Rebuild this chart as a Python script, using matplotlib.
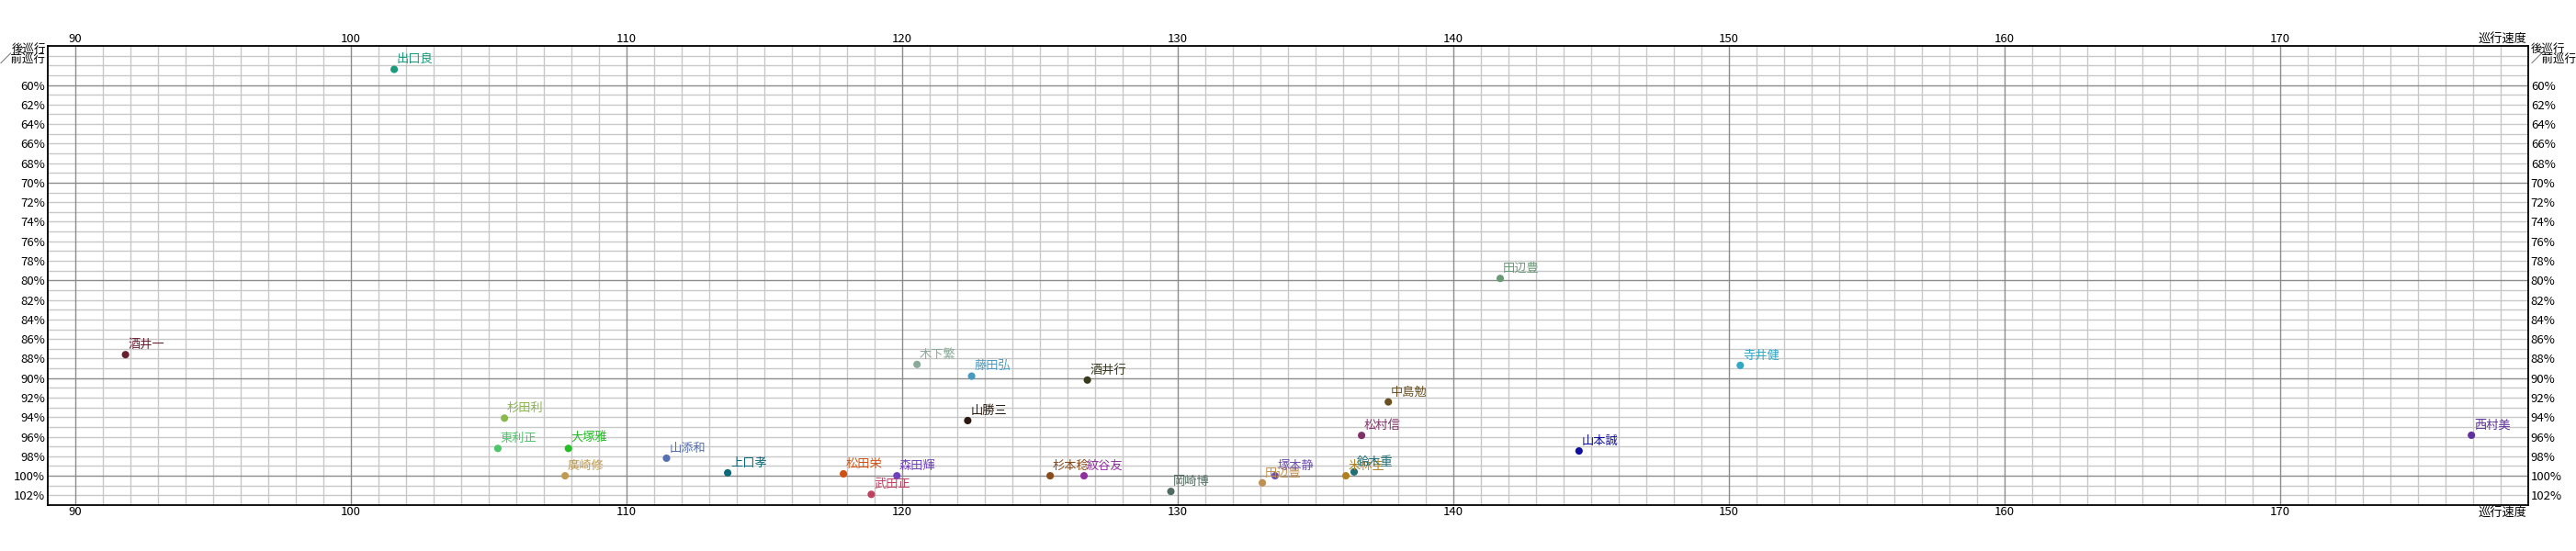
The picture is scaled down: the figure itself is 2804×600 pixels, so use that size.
import matplotlib
matplotlib.use("Agg")
import matplotlib.pyplot as plt
import numpy as np
from matplotlib.ticker import FixedLocator

plt.rcParams["font.family"] = ["Noto Sans CJK JP", "DejaVu Sans"]

# data
NAMES = [
    "出口良", "酒井一", "杉田利", "東利正", "大塚雅", "廣崎修", "山添和", "上口孝",
    "松田栄", "武田正", "森田輝", "木下繁", "山勝三", "藤田弘", "杉本稔", "紋谷友",
    "酒井行", "岡崎博", "田辺豊", "塚本静", "米林圭", "鈴木重", "松村信", "中島勉",
    "田辺豊", "山本誠", "寺井健", "西村美",
]
SPEED = [
    101.57, 91.82, 105.57, 105.33, 107.89, 107.77, 111.45, 113.67,
    117.87, 118.88, 119.81, 120.54, 122.38, 122.52, 125.37, 126.60,
    126.72, 129.75, 133.07, 133.53, 136.10, 136.40, 136.67, 137.64,
    141.70, 144.56, 150.41, 176.94,
]
RATIO = [
    58.4, 87.6, 94.1, 97.2, 97.2, 100.0, 98.2, 99.7,
    99.8, 101.9, 100.0, 88.6, 94.35, 89.8, 100.0, 100.0,
    90.2, 101.6, 100.72, 100.0, 100.0, 99.6, 95.87, 92.44,
    79.8, 97.46, 88.7, 95.85,
]
COLORS = [
    "#1a9a7a", "#6b1f2e", "#8ab84a", "#4cc66a", "#22c022", "#c09a50", "#5570b0", "#0a6a7a",
    "#d05010", "#c04060", "#7040c0", "#8aab98", "#2a1a10", "#4a9ac0", "#8a4a1a", "#9030a0",
    "#3a3a20", "#506a60", "#c09050", "#7050b0", "#b08020", "#207078", "#803068", "#6a5020",
    "#6a9a78", "#1010a0", "#30a8c8", "#6030a0",
]

X_TICKS = list(range(90, 171, 10))
Y_TICKS = list(range(60, 103, 2))

fig = plt.figure(figsize=(28.04, 6.0), dpi=100)
ax = fig.add_axes([52 / 2804, 50 / 600, 2700 / 2804, 500 / 600])

ax.set_xlim(89, 179)
ax.set_ylim(103, 56)

# grid: light every 1, darker every 10 (drawn once each)
for v in range(89, 180):
    major = v % 10 == 0
    ax.axvline(v, color="#8c8c8c" if major else "#c8c8c8", linewidth=1.0,
               zorder=0.5 if major else 0.2)
for v in range(56, 104):
    major = v % 10 == 0
    ax.axhline(v, color="#8c8c8c" if major else "#c8c8c8", linewidth=1.0,
               zorder=0.5 if major else 0.2)

ax.xaxis.set_major_locator(FixedLocator(X_TICKS))
ax.yaxis.set_major_locator(FixedLocator(Y_TICKS))
ax.set_xticklabels([str(v) for v in X_TICKS])
ax.set_yticklabels([f"{v}%" for v in Y_TICKS])
ax.tick_params(which="both", length=0, labelsize=9.5, colors="black",
               top=True, right=True, labeltop=True, labelright=True)
ax.tick_params(axis="x", pad=1)
ax.tick_params(axis="y", pad=2)

for spine in ax.spines.values():
    spine.set_color("black")
    spine.set_linewidth(1.3)

ax.scatter(SPEED, RATIO, s=34, c=COLORS, zorder=3, linewidths=0)
for name, x, y, c in zip(NAMES, SPEED, RATIO, COLORS):
    ax.annotate(name, (x, y), xytext=(2, 3), textcoords="offset points",
                ha="left", va="bottom", fontsize=9.5, color=c, zorder=4,
                arrowprops=dict(arrowstyle="-", color=c, lw=0.8,
                                shrinkA=0, shrinkB=1, relpos=(0, 0)))

# axis captions
fig.text(50 / 2804, 1 - 47 / 600, "後巡行\n／前巡行", ha="right", va="top",
         fontsize=9, linespacing=0.9)
fig.text(2755 / 2804, 1 - 47 / 600, "後巡行\n／前巡行", ha="left", va="top",
         fontsize=9, linespacing=0.9)
fig.text(2751 / 2804, 1 - 49 / 600, "巡行速度", ha="right", va="bottom", fontsize=9.5)
fig.text(2751 / 2804, 1 - 552 / 600, "巡行速度", ha="right", va="top", fontsize=9.5)

fig.savefig("out.png", dpi=100)
plt.close(fig)
